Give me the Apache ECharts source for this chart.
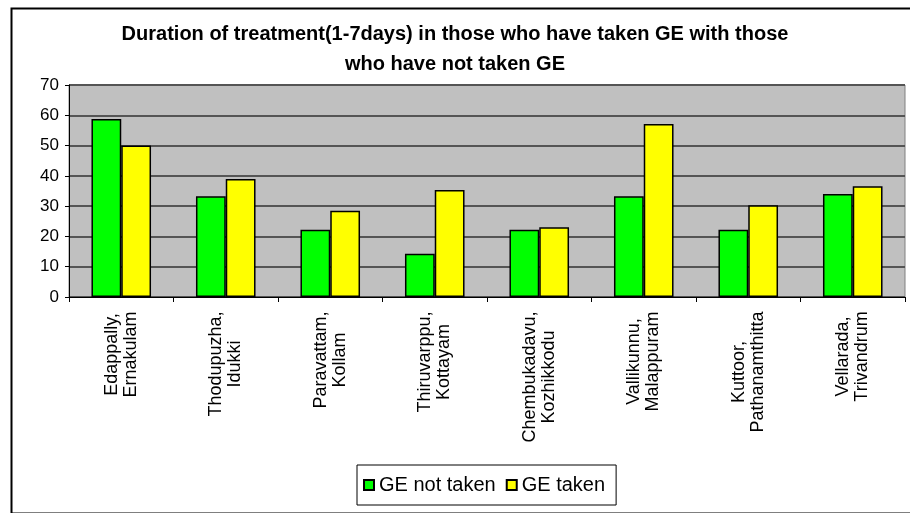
<!DOCTYPE html>
<html>
<head>
<meta charset="utf-8">
<script src="https://cdn.jsdelivr.net/npm/echarts@6/dist/echarts.min.js"></script>
<style>
  html, body { margin: 0; padding: 0; background: #fff; }
  #main { width: 910px; height: 513px; }
</style>
</head>
<body>
<div id="main"></div>
<script>
var places = [
    'Edappally,\nErnakulam', 'Thodupuzha,\nIdukki', 'Paravattam,\nKollam',
    'Thiruvarppu,\nKottayam', 'Chembukadavu,\nKozhikkodu', 'Vallikunnu,\nMalappuram',
    'Kuttoor,\nPathanamthitta', 'Vellarada,\nTrivandrum'
];
var geNotTaken = [58.8, 33.3, 22.2, 14.3, 22.2, 33.3, 22.2, 34.0];
var geTaken = [50.0, 39.0, 28.5, 35.3, 23.0, 57.1, 30.3, 36.6];

var labelSize = 18;
var ctx = document.createElement('canvas').getContext('2d');
ctx.font = labelSize + 'px "Liberation Sans", Arial';

// width of the widest line of a label, so both lines can be centred
function labelWidth(value) {
    var w = 0;
    value.split('\n').forEach(function (l) { w = Math.max(w, ctx.measureText(l).width); });
    return Math.ceil(w) + 2;
}

function createChart() {
    var chartDom = document.getElementById('main');
    var myChart = echarts.init(chartDom);
    var option;

    var rich = {};
    places.forEach(function (p) {
        var w = labelWidth(p);
        rich['c' + w] = {
            width: w,
            align: 'center',
            fontFamily: 'Liberation Sans, Arial',
            fontSize: labelSize,
            lineHeight: 19,
            color: '#000'
        };
    });

    option = {
    animation: false,
    title: {
        text: 'Duration of treatment(1-7days) in those who have taken GE with those\nwho have not taken GE',
        left: 'center',
        top: 14,
        textStyle: {
            fontFamily: 'Liberation Sans, Arial',
            fontSize: 20,
            fontWeight: 'bold',
            color: '#000',
            lineHeight: 30
        }
    },
    legend: {
        left: 357,
        top: 465,
        padding: [10, 11, 10, 6],
        itemGap: 10,
        itemWidth: 10,
        itemHeight: 10,
        icon: 'rect',
        borderColor: '#000',
        borderWidth: 1,
        backgroundColor: '#fff',
        textStyle: { fontFamily: 'Liberation Sans, Arial', fontSize: 20, color: '#000' },
        data: ['GE not taken', 'GE taken']
    },
    grid: {
        left: 69,
        right: 5,
        top: 85,
        bottom: 216,
        show: true,
        backgroundColor: '#c0c0c0',
        borderColor: '#808080',
        borderWidth: 1
    },
    xAxis: {
        type: 'category',
        data: places,
        axisLine: { lineStyle: { color: '#000', width: 1 } },
        axisTick: { show: true, length: 5, lineStyle: { color: '#000' } },
        axisLabel: {
            rotate: 90,
            interval: 0,
            margin: 13,
            fontFamily: 'Liberation Sans, Arial',
            fontSize: labelSize,
            lineHeight: 19,
            color: '#000',
            formatter: function (value) {
                var w = labelWidth(value);
                return value.split('\n').map(function (l) {
                    return '{c' + w + '|' + l + '}';
                }).join('\n');
            },
            rich: rich
        }
    },
    yAxis: {
        type: 'value',
        min: 0,
        max: 70,
        interval: 10,
        axisLine: { show: true, lineStyle: { color: '#000' } },
        axisTick: { show: true, length: 4, lineStyle: { color: '#000' } },
        axisLabel: {
            margin: 10,
            fontFamily: 'Liberation Sans, Arial',
            fontSize: 17,
            color: '#000'
        },
        splitLine: { show: true, lineStyle: { color: '#555', width: 2 } }
    },
    series: [
        {
        name: 'GE not taken',
        type: 'bar',
        data: geNotTaken,
        barGap: '0%',
        barCategoryGap: '43%',
        itemStyle: { color: '#00ff00', borderColor: '#000', borderWidth: 1.5 }
        },
        {
        name: 'GE taken',
        type: 'bar',
        data: geTaken,
        itemStyle: { color: '#ffff00', borderColor: '#000', borderWidth: 1.5 }
        }
    ],
    graphic: [
        {
        type: 'rect',
        left: 9,
        top: 6,
        shape: { width: 920, height: 505 },
        style: { fill: 'none', stroke: '#000', lineWidth: 2 },
        silent: true
        }
    ]
    };

    option && myChart.setOption(option);
}

createChart();
</script>
</body>
</html>
